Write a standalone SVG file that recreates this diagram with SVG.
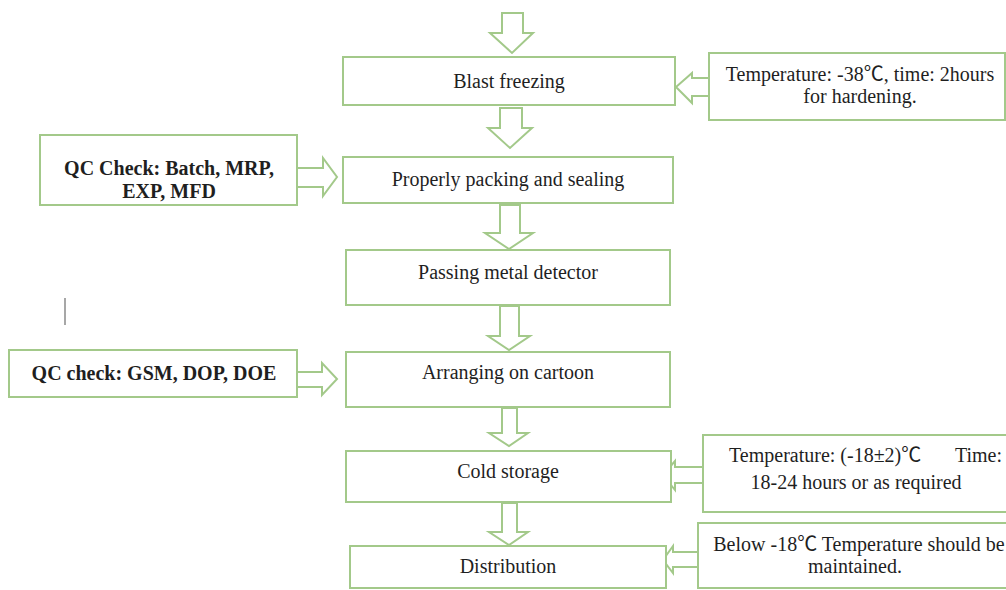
<svg xmlns="http://www.w3.org/2000/svg" width="1006" height="590" viewBox="0 0 1006 590">
  <style>
    .box { fill: #ffffff; stroke: #a3c98a; stroke-width: 2; }
    .arrow { fill: #ffffff; stroke: #a3c98a; stroke-width: 2; stroke-linejoin: miter; }
    .label { font-family: "Liberation Serif", "Times New Roman", "Noto Sans CJK SC", serif; font-size: 20px; fill: #1f1f1f; text-anchor: middle; }
    .bold { font-weight: bold; }
  </style>
  <rect width="1006" height="590" fill="#ffffff"/>

  <!-- block arrows -->
  <g id="connectors">
    <polygon class="arrow" points="502,13 523,13 523,33 533,33 512,53 490,33 502,33"/>
    <polygon class="arrow" points="500,108 522,108 522,128 532,128 510,148 488,128 500,128"/>
    <polygon class="arrow" points="500,205 520,205 520,233 533,233 509,249 485,233 500,233"/>
    <polygon class="arrow" points="500,306 519,306 519,336 530,336 509,350 488,336 500,336"/>
    <polygon class="arrow" points="502,408 517,408 517,433 528,433 509,446 489,433 502,433"/>
    <polygon class="arrow" points="502,503 517,503 517,532 528,532 509,545 489,532 502,532"/>
    <!-- side inputs -->
    <polygon class="arrow" points="709,78 692,78 692,73 676,87 692,103 692,96 709,96"/>
    <polygon class="arrow" points="297,168 323,168 323,158 337,177 323,196 323,187 297,187"/>
    <polygon class="arrow" points="297,372 322,372 322,363 337,379 322,395 322,387 297,387"/>
    <polygon class="arrow" points="703,467 675,467 675,461 663,475 675,490 675,483 703,483"/>
    <polygon class="arrow" points="698,552 673,552 673,546 663,560 673,573 673,567 698,567"/>
  </g>

  <!-- process steps -->
  <g id="blast-freezing">
    <rect class="box" x="343" y="57" width="332" height="48"/>
    <text class="label" x="509" y="88">Blast freezing</text>
  </g>
  <g id="packing">
    <rect class="box" x="343" y="157" width="330" height="46"/>
    <text class="label" x="508" y="186">Properly packing and sealing</text>
  </g>
  <g id="metal-detector">
    <rect class="box" x="346" y="250" width="324" height="55"/>
    <text class="label" x="508" y="279">Passing metal detector</text>
  </g>
  <g id="arranging">
    <rect class="box" x="346" y="352" width="324" height="55"/>
    <text class="label" x="508" y="379">Arranging on cartoon</text>
  </g>
  <g id="cold-storage">
    <rect class="box" x="346" y="451" width="325" height="51"/>
    <text class="label" x="508" y="478">Cold storage</text>
  </g>
  <g id="distribution">
    <rect class="box" x="350" y="546" width="316" height="42"/>
    <text class="label" x="508" y="573">Distribution</text>
  </g>

  <!-- conditions and checks -->
  <g id="blast-conditions">
    <rect class="box" x="709" y="53" width="296" height="67"/>
    <text class="label" x="860" y="81">Temperature: -38℃, time: 2hours</text>
    <text class="label" x="860" y="103">for hardening.</text>
  </g>
  <g id="qc-packing">
    <rect class="box" x="40" y="135" width="257" height="70"/>
    <text class="label bold" x="169" y="175">QC Check: Batch, MRP,</text>
    <text class="label bold" x="169" y="198">EXP, MFD</text>
  </g>
  <g id="qc-carton">
    <rect class="box" x="9" y="350" width="288" height="47"/>
    <text class="label bold" x="154" y="380">QC check: GSM, DOP, DOE</text>
  </g>
  <g id="storage-conditions">
    <rect class="box" x="703" y="435" width="310" height="77"/>
    <text class="label" x="729" y="462" style="text-anchor:start">Temperature: (-18±2)℃</text>
    <text class="label" x="1002" y="462" style="text-anchor:end">Time:</text>
    <text class="label" x="856" y="489">18-24 hours or as required</text>
  </g>
  <g id="distribution-conditions">
    <rect class="box" x="698" y="523" width="315" height="65"/>
    <text class="label" x="859" y="551">Below -18℃ Temperature should be</text>
    <text class="label" x="855" y="573">maintained.</text>
  </g>

  <!-- stray cursor mark -->
  <line x1="65" y1="298" x2="65" y2="325" stroke="#8a8a8a" stroke-width="1.5"/>
</svg>
